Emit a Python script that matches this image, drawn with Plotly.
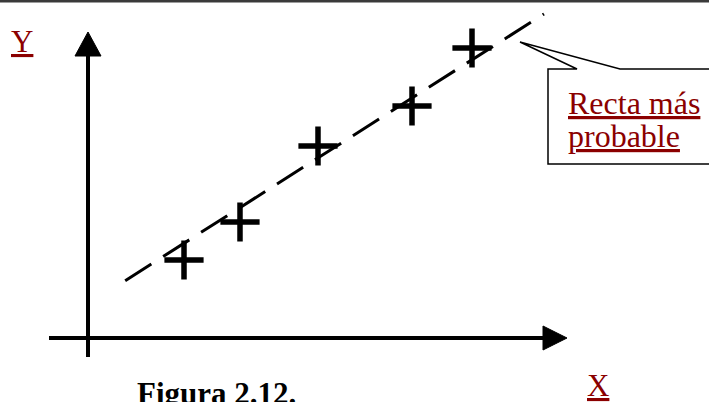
import plotly.graph_objects as go

# Data (chart units: origin at the axes crossing)
x_points = [2.4, 3.8, 5.75, 8.1, 9.6]
y_points = [1.95, 2.9, 4.8, 5.8, 7.25]

# "Recta más probable" (fitted line) parameters
fit_slope = 0.637
fit_intercept = 0.84
fit_x = [0.93, 11.4]
fit_y = [fit_slope * v + fit_intercept for v in fit_x]

x_label = "X"
y_label = "Y"
callout_lines = ["Recta más", "probable"]
caption = "Figura 2.12."

W, H = 709, 402
XR = [-2.2, 15.525]
YR = [-1.6, 8.45]

def px(x):
    return x / W

def py(y):
    return 1 - y / H

RED = "#8B0000"
SERIF = "Liberation Serif, Times New Roman, serif"

fig = go.Figure()

fig.add_trace(go.Scatter(
    x=fit_x, y=fit_y, mode="lines",
    line=dict(color="black", width=3, dash="31px,14px"),
    hoverinfo="skip", showlegend=False))

fig.add_trace(go.Scatter(
    x=x_points, y=y_points, mode="markers",
    marker=dict(symbol="cross-thin", size=28, line=dict(color="black", width=5.5)),
    showlegend=False))

shapes = []
# axes
shapes.append(dict(type="line", xref="x", yref="y", x0=-0.975, y0=0, x1=11.5, y1=0,
                   line=dict(color="black", width=4)))
shapes.append(dict(type="line", xref="x", yref="y", x0=0, y0=-0.475, x1=0, y1=7.1,
                   line=dict(color="black", width=4)))
# arrowheads
shapes.append(dict(type="path", xref="x", yref="y",
                   path="M 11.375 0.3 L 11.975 0 L 11.375 -0.3 Z",
                   fillcolor="black", line=dict(color="black", width=1)))
shapes.append(dict(type="path", xref="x", yref="y",
                   path="M -0.325 7.05 L 0 7.65 L 0.325 7.05 Z",
                   fillcolor="black", line=dict(color="black", width=1)))
# top rule
shapes.append(dict(type="rect", xref="paper", yref="paper", x0=0, x1=1,
                   y0=py(2.5), y1=py(0), fillcolor="#3a3a3a", line=dict(width=0)))
# callout
pts = [(548, 69), (577, 69), (520, 42), (620, 69), (730, 69), (730, 164), (548, 164)]
path = "M " + " L ".join(f"{px(a):.5f} {py(b):.5f}" for a, b in pts) + " Z"
shapes.append(dict(type="path", xref="paper", yref="paper", path=path,
                   fillcolor="white", line=dict(color="black", width=1.5)))

annotations = [
    dict(text=f"<u>{y_label}</u>", x=px(22), y=py(42), xref="paper", yref="paper",
         showarrow=False, font=dict(family=SERIF, size=31, color=RED),
         xanchor="center", yanchor="middle"),
    dict(text=f"<u>{x_label}</u>", x=px(598), y=py(385), xref="paper", yref="paper",
         showarrow=False, font=dict(family=SERIF, size=31, color=RED),
         xanchor="center", yanchor="middle"),
    dict(text=f"<u>{callout_lines[0]}</u>", x=px(566), y=py(103), xref="paper", yref="paper",
         showarrow=False, font=dict(family=SERIF, size=32, color=RED),
         xanchor="left", yanchor="middle"),
    dict(text=f"<u>{callout_lines[1]}</u>", x=px(566), y=py(136), xref="paper", yref="paper",
         showarrow=False, font=dict(family=SERIF, size=32, color=RED),
         xanchor="left", yanchor="middle"),
    dict(text=f"<b>{caption}</b>", x=px(135), y=py(393), xref="paper", yref="paper",
         showarrow=False, font=dict(family=SERIF, size=31, color="black"),
         xanchor="left", yanchor="middle"),
]

fig.update_layout(
    width=W, height=H, autosize=False,
    margin=dict(l=0, r=0, t=0, b=0, pad=0),
    paper_bgcolor="white", plot_bgcolor="white",
    xaxis=dict(range=XR, visible=False, fixedrange=True),
    yaxis=dict(range=YR, visible=False, fixedrange=True),
    shapes=shapes, annotations=annotations,
    showlegend=False,
)

fig.write_html("out.html", config={"displayModeBar": False},
               post_script="document.body.style.margin='0';document.body.style.overflow='hidden';")
